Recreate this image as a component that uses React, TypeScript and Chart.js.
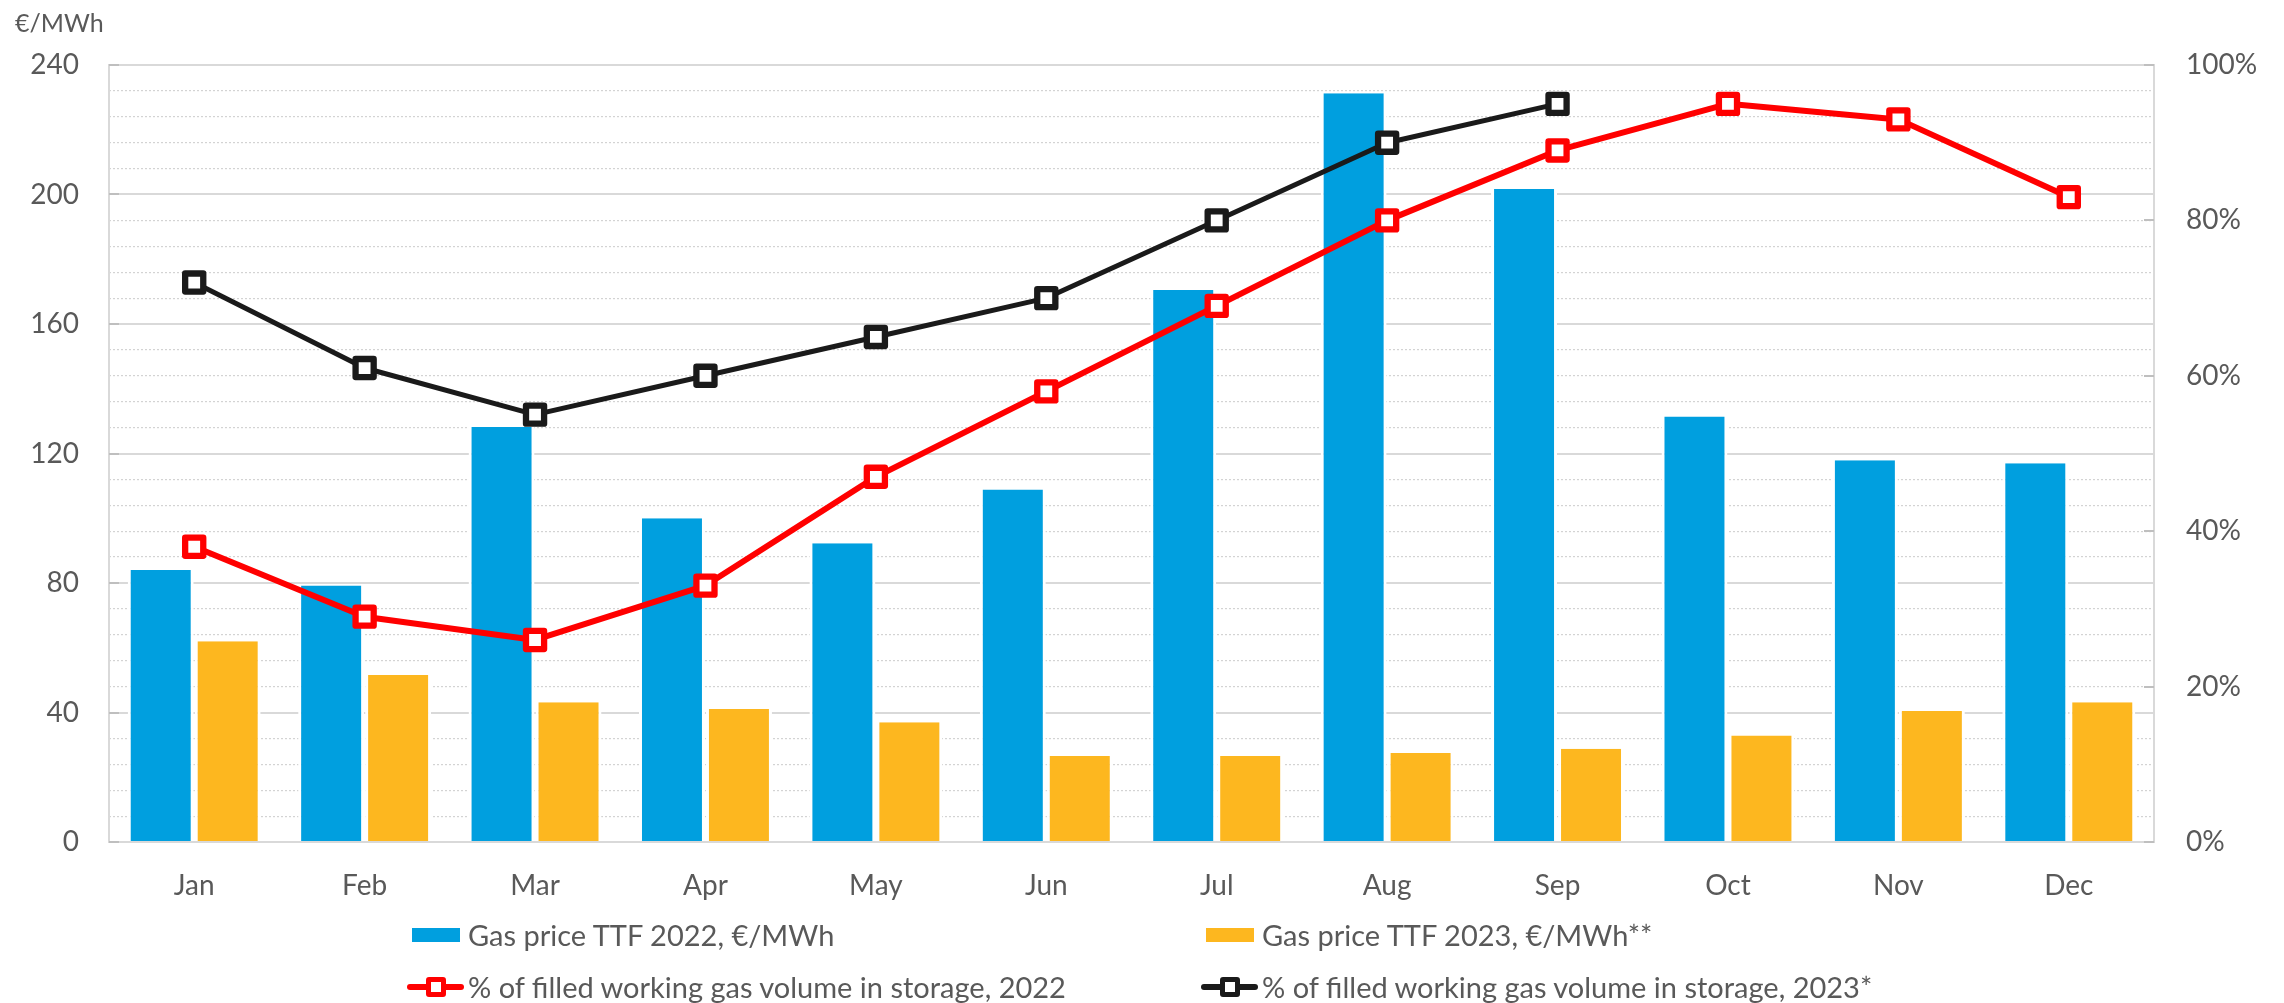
import React, { useEffect, useRef } from "react";
import { Chart, registerables } from "chart.js";

Chart.register(...registerables);

// ---- data ----
const months = ["Jan", "Feb", "Mar", "Apr", "May", "Jun", "Jul", "Aug", "Sep", "Oct", "Nov", "Dec"];
const price2022 = [84, 79.2, 128.2, 100, 92.3, 108.9, 170.5, 231.3, 201.7, 131.4, 117.9, 117];
const price2023 = [62, 51.6, 43.2, 41.1, 37, 26.6, 26.6, 27.5, 28.8, 32.9, 40.5, 43.2];
const storage2022 = [38, 29, 26, 33, 47, 58, 69, 80, 89, 95, 93, 83];
const storage2023 = [72, 61, 55, 60, 65, 70, 80, 90, 95, null, null, null];

const leftMin = 0;
const leftMax = 240;
const leftStep = 40;
const leftMinorStep = 8;
const rightMin = 0;
const rightMax = 100;
const rightStep = 20;

const labelPrice2022 = "Gas price TTF 2022, €/MWh";
const labelPrice2023 = "Gas price TTF 2023, €/MWh**";
const labelStorage2022 = "% of filled working gas volume in storage, 2022";
const labelStorage2023 = "% of filled working gas volume in storage, 2023*";
const leftUnit = "€/MWh";

// ---- style ----
const FONT = "Lato, 'Open Sans', sans-serif";
const TEXT = "#595959";
const BLUE = "#009FDF";
const YELLOW = "#FDB71F";
const RED = "#FF0000";
const BLACK = "#1A1A1A";
const GRID = "#D9D9D9";
const TICK = "#BFBFBF";

const innerTicksPlugin = {
  id: "innerTicks",
  beforeDatasetsDraw(chart: any) {
    const { ctx, chartArea } = chart;
    const y = chart.scales.y;
    const y1 = chart.scales.y1;
    ctx.save();
    ctx.strokeStyle = TICK;
    ctx.lineWidth = 2;
    y.ticks.forEach((t: any) => {
      const py = Math.round(y.getPixelForValue(t.value));
      ctx.beginPath();
      ctx.moveTo(chartArea.left, py);
      ctx.lineTo(chartArea.left + 10, py);
      ctx.stroke();
    });
    y1.ticks.forEach((t: any) => {
      const py = Math.round(y1.getPixelForValue(t.value));
      ctx.beginPath();
      ctx.moveTo(chartArea.right - 10, py);
      ctx.lineTo(chartArea.right, py);
      ctx.stroke();
    });
    ctx.restore();
    ctx.lineJoin = "round";
  },
};

function LineMarker({ color, left, centerY }: { color: string; left: number; centerY: number }) {
  return (
    <div style={{ position: "absolute", left, top: centerY - 12, width: 57, height: 24 }}>
      <div style={{ position: "absolute", left: 0, top: 9, width: 57, height: 6, background: color, borderRadius: 3 }} />
      <div
        style={{
          position: "absolute",
          left: 19,
          top: 1.5,
          width: 10,
          height: 10,
          border: `5.5px solid ${color}`,
          background: "#fff",
          borderRadius: 3,
        }}
      />
    </div>
  );
}

function LegendText({ text, left, centerY }: { text: string; left: number; centerY: number }) {
  return (
    <div
      style={{
        position: "absolute",
        left,
        top: centerY - 17,
        height: 34,
        lineHeight: "34px",
        fontFamily: FONT,
        fontSize: 29,
        color: TEXT,
        whiteSpace: "nowrap",
      }}
    >
      {text}
    </div>
  );
}

export default function App() {
  const canvasRef = useRef<HTMLCanvasElement | null>(null);

  useEffect(() => {
    if (!canvasRef.current) return;
    const barBorder = { left: 3, right: 3, top: 0, bottom: 0 };
    const chart = new Chart(canvasRef.current, {
      type: "bar",
      data: {
        labels: months,
        datasets: [
          {
            type: "line",
            label: labelStorage2023,
            data: storage2023,
            yAxisID: "y1",
            borderColor: BLACK,
            borderWidth: 5,
            borderJoinStyle: "round",
            pointStyle: "rect",
            pointRadius: 12.8,
            pointBorderWidth: 6.3,
            pointBackgroundColor: "#FFFFFF",
            pointBorderColor: BLACK,
            tension: 0,
            spanGaps: false,
            order: 0,
          } as any,
          {
            type: "line",
            label: labelStorage2022,
            data: storage2022,
            yAxisID: "y1",
            borderColor: RED,
            borderWidth: 6,
            borderJoinStyle: "round",
            pointStyle: "rect",
            pointRadius: 12.8,
            pointBorderWidth: 6.3,
            pointBackgroundColor: "#FFFFFF",
            pointBorderColor: RED,
            tension: 0,
            order: 0,
          } as any,
          {
            type: "bar",
            label: labelPrice2022,
            data: price2022,
            yAxisID: "y",
            backgroundColor: BLUE,
            borderColor: "#FFFFFF",
            borderWidth: barBorder,
            borderSkipped: false,
            barPercentage: 0.985,
            categoryPercentage: 0.786,
            order: 1,
          } as any,
          {
            type: "bar",
            label: labelPrice2023,
            data: price2023,
            yAxisID: "y",
            backgroundColor: YELLOW,
            borderColor: "#FFFFFF",
            borderWidth: barBorder,
            borderSkipped: false,
            barPercentage: 0.985,
            categoryPercentage: 0.786,
            order: 1,
          } as any,
        ],
      },
      options: {
        responsive: false,
        animation: false,
        layout: { padding: { top: 65, left: 0, right: 0, bottom: 0 } },
        plugins: {
          legend: { display: false },
          tooltip: { enabled: false },
        },
        scales: {
          x: {
            grid: { display: false, drawTicks: false },
            border: { display: true, color: GRID, width: 2 },
            ticks: { font: { family: FONT, size: 28 }, color: TEXT, padding: 27 },
            afterFit: (s: any) => {
              s.height = 161;
            },
          },
          yMinor: {
            position: "left",
            min: leftMin,
            max: leftMax,
            ticks: { display: false, stepSize: leftMinorStep, autoSkip: false },
            grid: {
              color: (ctx: any) =>
                ctx.tick && ctx.tick.value % leftStep === 0 ? "rgba(0,0,0,0)" : "#D3D3D3",
              lineWidth: 1.2,
              drawTicks: false,
            },
            border: { display: false, dash: [2, 2] },
            afterFit: (s: any) => {
              s.width = 0;
            },
          },
          y: {
            position: "left",
            min: leftMin,
            max: leftMax,
            ticks: {
              stepSize: leftStep,
              font: { family: FONT, size: 28 },
              color: TEXT,
              padding: 30,
            },
            grid: { color: GRID, lineWidth: 2, drawTicks: false },
            border: { display: true, color: GRID, width: 2 },
            afterFit: (s: any) => {
              s.width = 109;
            },
          },
          y1: {
            position: "right",
            min: rightMin,
            max: rightMax,
            ticks: {
              stepSize: rightStep,
              font: { family: FONT, size: 28 },
              color: TEXT,
              padding: 32,
              callback: (v: any) => `${v}%`,
            },
            grid: { drawOnChartArea: false, drawTicks: false },
            border: { display: true, color: GRID, width: 2 },
            afterFit: (s: any) => {
              s.width = 130;
            },
          },
        } as any,
      },
      plugins: [innerTicksPlugin],
    });
    return () => chart.destroy();
  }, []);

  return (
    <div style={{ position: "absolute", left: 0, top: 0, width: 2284, height: 1003, background: "#fff" }}>
      <canvas ref={canvasRef} width={2284} height={1003} style={{ width: 2284, height: 1003, display: "block" }} />
      <div
        style={{
          position: "absolute",
          left: 15,
          top: 7,
          lineHeight: "30px",
          fontFamily: FONT,
          fontSize: 25,
          color: TEXT,
          whiteSpace: "nowrap",
        }}
      >
        {leftUnit}
      </div>
      {/* legend row 1 */}
      <div style={{ position: "absolute", left: 412, top: 928, width: 48, height: 14, background: BLUE }} />
      <LegendText text={labelPrice2022} left={468} centerY={935} />
      <div style={{ position: "absolute", left: 1206, top: 928, width: 48, height: 14, background: YELLOW }} />
      <LegendText text={labelPrice2023} left={1262} centerY={935} />
      {/* legend row 2 */}
      <LineMarker color={RED} left={407} centerY={987} />
      <LegendText text={labelStorage2022} left={468} centerY={987} />
      <LineMarker color={BLACK} left={1201} centerY={987} />
      <LegendText text={labelStorage2023} left={1262} centerY={987} />
    </div>
  );
}
